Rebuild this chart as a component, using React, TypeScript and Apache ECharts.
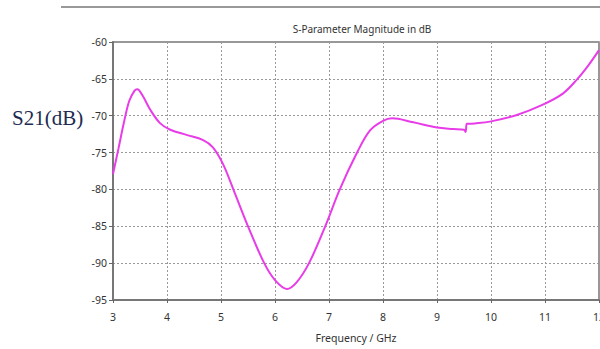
import React, { useEffect, useRef } from "react";
import * as echarts from "echarts";

const freqGHz = [3.0, 3.1, 3.2, 3.3, 3.4, 3.45, 3.55, 3.69, 3.87, 4.06, 4.36, 4.67, 4.85, 5.04, 5.25, 5.5, 5.8, 6.0, 6.22, 6.4, 6.63, 6.93, 7.2, 7.52, 7.76, 8.0, 8.17, 8.56, 9.0, 9.3, 9.5, 9.53, 9.55, 9.58, 9.7, 9.98, 10.48, 10.96, 11.33, 11.59, 11.8, 12.0];
const s21dB = [-77.9, -74.5, -71.0, -68.0, -66.6, -66.4, -67.3, -69.2, -71.0, -71.9, -72.6, -73.3, -74.3, -76.6, -80.4, -85.0, -90.0, -92.3, -93.5, -92.6, -90.0, -85.0, -80.0, -75.0, -72.0, -70.7, -70.35, -70.9, -71.6, -71.8, -71.9, -72.2, -71.1, -71.1, -71.05, -70.8, -69.9, -68.5, -67.0, -65.1, -63.2, -61.1];
const xTicks = [3, 4, 5, 6, 7, 8, 9, 10, 11, 12];
const yMin = -95;
const yMax = -60;
const yStep = 5;

export default function App() {
  const ref = useRef<HTMLDivElement>(null);
  useEffect(() => {
    if (!ref.current) return;
    const chart = echarts.init(ref.current, undefined, { renderer: "svg" });
    const data = freqGHz.map((f, i) => [f, s21dB[i]]);
    const labelFont = { fontFamily: "Noto Sans", fontSize: 10.5, color: "#333" };
    chart.setOption({
      animation: false,
      backgroundColor: "#fff",
      title: {
        text: "S-Parameter Magnitude in dB",
        left: 357,
        textAlign: "center",
        top: 19,
        textStyle: { fontFamily: "Noto Sans", fontSize: 10, fontWeight: "normal", color: "#333" },
      },
      grid: {
        left: 113,
        right: 1,
        top: 42,
        bottom: 49,
        containLabel: false,
        outerBoundsMode: "none",
        show: true,
        borderColor: "#777",
        borderWidth: 1.5,
      },
      xAxis: {
        type: "value",
        min: 3,
        max: 12,
        interval: 1,
        name: "Frequency / GHz",
        nameLocation: "middle",
        nameGap: 32,
        nameTextStyle: { ...labelFont },
        axisLine: { show: true, lineStyle: { color: "#777", width: 2 } },
        axisTick: { show: true, length: 3, lineStyle: { color: "#666" } },
        axisLabel: { ...labelFont, margin: 11, formatter: (v: number) => (xTicks.includes(v) ? String(v) : "") },
        splitLine: { show: true, lineStyle: { color: "#999", type: [2, 2], width: 1 } },
      },
      yAxis: {
        type: "value",
        min: yMin,
        max: yMax,
        interval: yStep,
        axisLine: { show: true, onZero: false, lineStyle: { color: "#777", width: 2 } },
        axisTick: { show: true, length: 4, lineStyle: { color: "#666" } },
        axisLabel: { ...labelFont, margin: 6 },
        splitLine: { show: true, lineStyle: { color: "#999", type: [2, 2], width: 1 } },
      },
      graphic: [
        { type: "line", shape: { x1: 61, y1: 7, x2: 600, y2: 7 }, style: { stroke: "#999", lineWidth: 2 } },
        {
          type: "text",
          x: 12,
          y: 118,
          style: {
            text: "S21(dB)",
            fontFamily: "Liberation Serif",
            fontSize: 21,
            fill: "#1d2b52",
            textVerticalAlign: "middle",
          },
        },
      ],
      series: [
        {
          type: "line",
          data,
          smooth: 0.35,
          showSymbol: false,
          lineStyle: { color: "#e83ce8", width: 2 },
        },
      ],
    });
    return () => chart.dispose();
  }, []);
  return <div ref={ref} style={{ width: 600, height: 349, position: "absolute", left: 0, top: 0 }} />;
}
